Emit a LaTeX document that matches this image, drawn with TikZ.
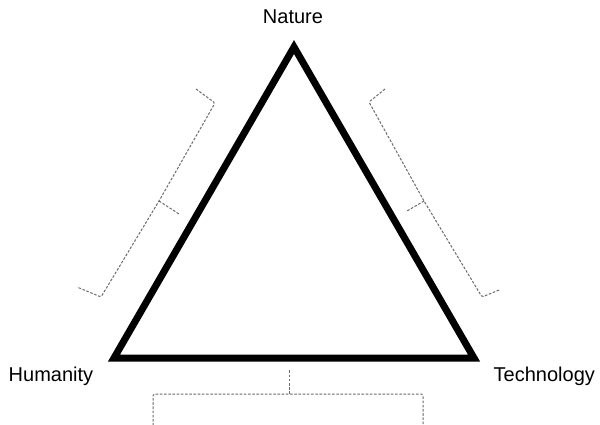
\documentclass[tikz,border=0pt]{standalone}
\usepackage{fontspec}
\setmainfont{Liberation Sans}
\begin{document}
\begin{tikzpicture}[x=1pt,y=-1pt,
  vlabel/.style={inner sep=0pt,font=\fontsize{20}{24}\selectfont},
  tri/.style={line width=7pt,line join=miter,draw=black},
  bracepath/.style={draw=black!58,line width=1pt,dash pattern=on 2.6pt off 1.6pt,rounded corners=1.5pt}]
\useasboundingbox (0,0) rectangle (600,424);
\clip (0,0) rectangle (600,424);
\fill[white] (0,0) rectangle (600,424);
% vertices
\coordinate (N) at (294,47);
\coordinate (H) at (114,358);
\coordinate (T) at (474,358);
\draw[tri] (N) -- (H) -- (T) -- cycle;
% labels
\node[vlabel,anchor=base] (nat) at (293,23) {Nature};
\node[vlabel,anchor=base west] (hum) at (8.5,381) {Humanity};
\node[vlabel,anchor=base west] (tec) at (493.5,381) {Technology};
% left brace
\coordinate (la) at (196,89);
\coordinate (lb) at (215,103);
\coordinate (lm) at (159,201);
\coordinate (lt) at (179,214);
\coordinate (lc) at (101,297);
\coordinate (ld) at (77,287);
\draw[bracepath] (la) -- (lb) -- (lm) -- (lc) -- (ld);
\draw[bracepath] (lm) -- (lt);
% right brace
\coordinate (ra) at (385,89);
\coordinate (rb) at (369,102);
\coordinate (rm) at (424,201);
\coordinate (rt) at (407,211);
\coordinate (rc) at (482,297);
\coordinate (rd) at (499,290);
\draw[bracepath] (ra) -- (rb) -- (rm) -- (rc) -- (rd);
\draw[bracepath] (rm) -- (rt);
% bottom brace
\coordinate (ba) at (153,430);
\coordinate (bb) at (153,394);
\coordinate (bm) at (289,394);
\coordinate (bt) at (289,370);
\coordinate (bc) at (423,394);
\coordinate (bd) at (423,430);
\draw[bracepath] (ba) -- (bb) -- (bm) -- (bc) -- (bd);
\draw[bracepath] (bm) -- (bt);
\end{tikzpicture}
\end{document}
